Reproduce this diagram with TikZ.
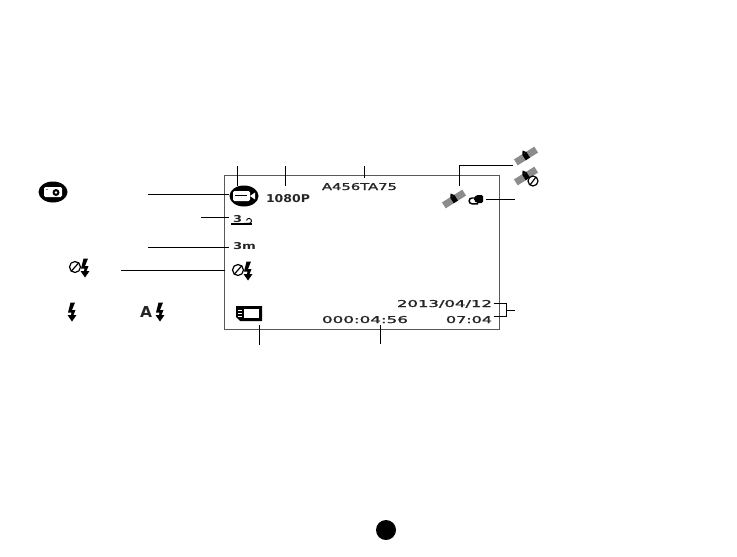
\documentclass[tikz,border=0pt]{standalone}
\usepackage{fontspec}
\usepackage{graphicx}
\setmainfont{DejaVu Sans}
\newfontfamily\lcdfont[FakeBold=1.5]{DejaVu Sans}
\newcommand{\lcdtext}[3]{\resizebox{\dimexpr #1pt*3/4\relax}{\dimexpr #2pt*3/4\relax}{#3}}
\tikzset{
  lead/.style={draw=black,line width=0.75pt},
  frame/.style={draw=black!65,line width=1.1pt},
  lcd/.style={inner sep=0pt,outer sep=0pt,text=black!85},
  pics/satellite/.style={code={
    \begin{scope}[rotate=32]
      \fill[black!45] (-12,-3.5) rectangle (-2,3.5);
      \fill[black!45] (2,-3.5) rectangle (12,3.5);
      \fill[black] (-2.5,-3) rectangle (2.5,3.5);
      \fill[black] (-2.5,-3) -- (0,-6.5) -- (2.5,-3) -- cycle;
    \end{scope}
  }},
  pics/bolt/.style={code={
    \fill[black] (3,-9.5) -- (-1.5,-9.5) -- (-4,0.5) -- (-0.5,0.5) -- (-1,3) -- (-4.5,3) -- (0,9.5) -- (4.5,3) -- (1.5,3) -- (3.5,-2) -- (0,-2) -- cycle;
  }},
  pics/noflash/.style={code={
    \draw[black,line width=0.9pt] (-5,0) circle (5.5);
    \draw[black,line width=0.9pt] (-9,4.5) -- (-1,-4.5);
    \begin{scope}[shift={(5,1)}] \pic {bolt}; \end{scope}
  }},
  pics/camicon/.style={code={
    \fill[black] (0,0) ellipse (14.5 and 10.5);
  }},
}
\begin{document}
\begin{tikzpicture}[x=0.75pt,y=-0.75pt]
\useasboundingbox (0,0) rectangle (737,556);
% screen frame
\node[frame,minimum width=206.25pt,minimum height=115.5pt,inner sep=0pt,anchor=north west] (screen) at (224,175) {};
% texts
\node[lcd,anchor=north west] (res) at (266,194) {\lcdtext{44}{8}{\textbf{1080P}}};
\node[lcd,anchor=north west] (plate) at (322,183) {\lcdtext{75}{7}{\lcdfont A456TA75}};
\node[lcd,anchor=north west] (date) at (397,300) {\lcdtext{95}{7}{\lcdfont 2013/04/12}};
\node[lcd,anchor=north west] (clock) at (446,316) {\lcdtext{46}{7}{\lcdfont 07:04}};
\node[lcd,anchor=north west] (rec) at (322,316) {\lcdtext{86}{7}{\lcdfont 000:04:56}};
\node[lcd,anchor=north west] (dist) at (233,242) {\lcdtext{23}{7}{\textbf{3m}}};
\node[lcd,anchor=north west] (burst) at (233,215) {\lcdtext{9}{7}{\textbf{3}}};
\draw[black,line width=0.8pt] (231,224) -- (252,224);
\draw[black,line width=0.7pt] (244,223.4) -- (249,223.4) arc (90:-170:2.5);
% mode icons
\pic at (53,192) {camicon};
\fill[white,rounded corners=1pt] (44,187) rectangle (62,197);
\fill[black] (56,192.5) circle (3.5);
\fill[white] (56,192.5) circle (1.3);
\fill[black!50] (46,188.5) rectangle (48,190);
\pic at (244,196) {camicon};
\fill[white,rounded corners=1pt] (233,191) rectangle (250,201);
\fill[black] (235,194.5) rectangle (247,196);
\fill[white] (250,196) -- (255,192.5) -- (255,199.5) -- cycle;
% flash icons
\pic at (80,267) {noflash};
\pic at (243,270) {noflash};
\pic at (72,312) {bolt};
\node[lcd,anchor=center] (autoA) at (146,312) {\lcdtext{12}{11}{\textbf{A}}};
\pic at (160,312) {bolt};
% card
\fill[black] (236,306) -- (262,306) -- (262,321) -- (240,321) -- (236,317) -- cycle;
\fill[white] (244,309) rectangle (259,318);
\fill[white] (237.5,309.5) rectangle (242,310.5);
\fill[white] (237.5,312.5) rectangle (242,313.5);
\fill[white] (237.5,315.5) rectangle (242,316.5);
% satellites
\pic at (454,199) {satellite};
\pic at (526,156) {satellite};
\pic at (526,176) {satellite};
\draw[black,line width=0.9pt,fill=white] (533,181) circle (5);
\draw[black,line width=0.9pt] (530,185) -- (536,177);
% plug
\fill[black,rounded corners=1pt] (476,195) -- (483,195) -- (483,203) -- (476,203) -- (476,201) -- (474,201) -- (474,197) -- (476,197) -- cycle;
\draw[black,line width=1.1pt] (475,198) -- (472,198) arc (270:90:2.9) -- (478,203.8);
% page mark
\fill[black] (386,530) circle (10);
% free ends of leaders
\coordinate (a1) at (237,166); \coordinate (a2) at (237,186);
\coordinate (b1) at (285,166); \coordinate (b2) at (285,186);
\coordinate (c1) at (364,166); \coordinate (c2) at (364,178);
\coordinate (d1) at (148,194); \coordinate (d2) at (229,194);
\coordinate (e1) at (201,217); \coordinate (e2) at (229,217);
\coordinate (f1) at (148,247); \coordinate (f2) at (229,247);
\coordinate (g1) at (121,270); \coordinate (g2) at (225,270);
\coordinate (h1) at (259,325); \coordinate (h2) at (259,345);
\coordinate (i1) at (380,325); \coordinate (i2) at (380,344);
\coordinate (j1) at (513,165); \coordinate (j2) at (459,186);
\coordinate (k1) at (486,199); \coordinate (k2) at (515,199);
\coordinate (l1) at (494,303); \coordinate (l2) at (506,303);
\coordinate (m1) at (494,316); \coordinate (m2) at (506,316);
\coordinate (n1) at (506,310); \coordinate (n2) at (515,310);
\draw[lead] (a1) -- (a2);
\draw[lead] (b1) -- (b2);
\draw[lead] (c1) -- (c2);
\draw[lead] (d1) -- (d2);
\draw[lead] (e1) -- (e2);
\draw[lead] (f1) -- (f2);
\draw[lead] (g1) -- (g2);
\draw[lead] (h1) -- (h2);
\draw[lead] (i1) -- (i2);
\draw[lead] (j1) -| (j2);
\draw[lead] (k1) -- (k2);
\draw[lead] (l1) -- (l2) -- (m2) -- (m1);
\draw[lead] (n1) -- (n2);
\end{tikzpicture}
\end{document}
